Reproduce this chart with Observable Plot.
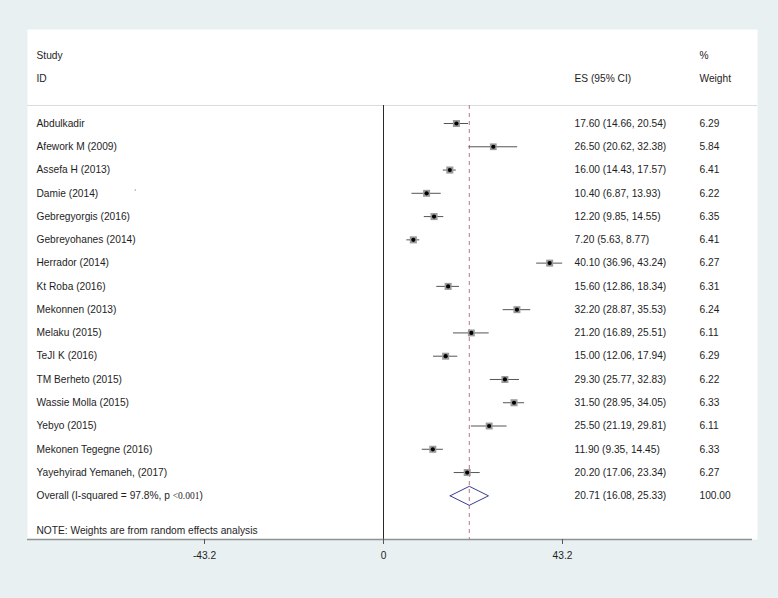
<!DOCTYPE html>
<html>
<head>
<meta charset="utf-8">
<script src="https://cdn.jsdelivr.net/npm/d3@7"></script>
<script src="https://cdn.jsdelivr.net/npm/@observablehq/plot@0.6"></script>
<style>
  html, body { margin: 0; padding: 0; background: #e8f0f2; }
  #chart { width: 778px; height: 598px; }
</style>
</head>
<body>
<div id="chart"></div>
<script>
// ---- data ----
const studies = ["Abdulkadir", "Afework M (2009)", "Assefa H (2013)", "Damie (2014)", "Gebregyorgis (2016)",
  "Gebreyohanes (2014)", "Herrador (2014)", "Kt Roba (2016)", "Mekonnen (2013)", "Melaku (2015)",
  "TeJI K (2016)", "TM Berheto (2015)", "Wassie Molla (2015)", "Yebyo (2015)", "Mekonen Tegegne (2016)",
  "Yayehyirad Yemaneh, (2017)"];
const es     = [17.60, 26.50, 16.00, 10.40, 12.20, 7.20, 40.10, 15.60, 32.20, 21.20, 15.00, 29.30, 31.50, 25.50, 11.90, 20.20];
const lo     = [14.66, 20.62, 14.43,  6.87,  9.85, 5.63, 36.96, 12.86, 28.87, 16.89, 12.06, 25.77, 28.95, 21.19,  9.35, 17.06];
const hi     = [20.54, 32.38, 17.57, 13.93, 14.55, 8.77, 43.24, 18.34, 35.53, 25.51, 17.94, 32.83, 34.05, 29.81, 14.45, 23.34];
const weight = [6.29, 5.84, 6.41, 6.22, 6.35, 6.41, 6.27, 6.31, 6.24, 6.11, 6.29, 6.22, 6.33, 6.11, 6.33, 6.27];
const overallES = 20.71, overallLo = 16.08, overallHi = 25.33, overallWeight = 100.00;
const iSquared = 97.8, pLabel = "<0.001";
const xTicks = [-43.2, 0, 43.2];
const note = "NOTE: Weights are from random effects analysis";

// ---- layout (pixel geometry of the reference) ----
const W = 778, H = 598;
const panelL = 27, panelR = 757, panelT = 29, panelB = 539;
const zeroPx = 383, pxPerUnit = 179 / 43.2;
const row0Px = 123, rowPx = 23.27;
const xL = (panelL - zeroPx) / pxPerUnit, xR = (panelR - zeroPx) / pxPerUnit;
const xAxisEnd = (752 - zeroPx) / pxPerUnit;
const yT = (panelT - row0Px) / rowPx, yB = (panelB - row0Px) / rowPx;
const rowOf = px => (px - row0Px) / rowPx;
const yStudyHdr = rowOf(55), yIdHdr = rowOf(78), ySep = rowOf(105);
const yOverall = studies.length, yNote = rowOf(530);
const diamondHalf = 9.5 / rowPx;

const rows = studies.map((s, i) => ({
  study: s, es: es[i], lo: lo[i], hi: hi[i], weight: weight[i], row: i,
  esText: `${es[i].toFixed(2)} (${lo[i].toFixed(2)}, ${hi[i].toFixed(2)})`,
  wText: weight[i].toFixed(2)
}));
const overallRow = {
  study: `Overall (I-squared = ${iSquared}%, p ${pLabel})`, row: yOverall,
  esText: `${overallES.toFixed(2)} (${overallLo.toFixed(2)}, ${overallHi.toFixed(2)})`,
  wText: overallWeight.toFixed(2)
};
const diamond = [
  {x: overallLo, y: yOverall}, {x: overallES, y: yOverall - diamondHalf},
  {x: overallHi, y: yOverall}, {x: overallES, y: yOverall + diamondHalf},
  {x: overallLo, y: yOverall}
];
const textRows = [...rows, overallRow];
const esDx = 574 - panelR, wDx = 699 - panelR, nameDx = 36 - panelL;
const ink = "#1e1e1e";

const chart = Plot.plot({
  width: W, height: H,
  marginLeft: panelL, marginRight: W - panelR, marginTop: panelT, marginBottom: H - panelB,
  style: {background: "#e8f0f2", fontFamily: "'Liberation Sans', Arial, Helvetica, sans-serif", fontSize: "10.2px", color: ink},
  x: {domain: [xL, xR]},
  y: {domain: [yT, yB], reverse: true, axis: null},
  r: {type: "sqrt", domain: [0, 6.41], range: [0, 4]},
  marks: [
    Plot.frame({fill: "white", stroke: null}),
    // header separator
    Plot.ruleY([ySep], {x1: xL, x2: xR, stroke: "#d9dcdd", strokeWidth: 1}),
    // zero line
    Plot.ruleX([0], {y1: ySep, y2: yB, stroke: "#2a2a2a", strokeWidth: 1}),
    // overall estimate dashed line
    Plot.ruleX([overallES], {y1: ySep, y2: yB, stroke: "#c0737a", strokeWidth: 1, strokeDasharray: "4,4"}),
    // confidence intervals
    Plot.ruleY(rows, {y: "row", x1: "lo", x2: "hi", stroke: "#555", strokeWidth: 1}),
    // weight boxes
    Plot.dot(rows, {x: "es", y: "row", r: "weight", symbol: "square", fill: "#9a9a9a", stroke: null}),
    // point estimates
    Plot.dot(rows, {x: "es", y: "row", r: 2.1, fill: "#000", stroke: null}),
    // overall diamond
    Plot.line(diamond, {x: "x", y: "y", stroke: "#3b3b96", strokeWidth: 1, curve: "linear"}),
    // headers
    Plot.text(["Study"], {frameAnchor: "left", dx: nameDx, y: () => yStudyHdr, textAnchor: "start", fill: ink}),
    Plot.text(["ID"], {frameAnchor: "left", dx: nameDx, y: () => yIdHdr, textAnchor: "start", fill: ink}),
    Plot.text(["ES (95% CI)"], {frameAnchor: "right", dx: esDx, y: () => yIdHdr, textAnchor: "start", fill: ink}),
    Plot.text(["%"], {frameAnchor: "right", dx: wDx, y: () => yStudyHdr, textAnchor: "start", fill: ink}),
    Plot.text(["Weight"], {frameAnchor: "right", dx: wDx, y: () => yIdHdr, textAnchor: "start", fill: ink}),
    // row labels
    Plot.text(textRows, {frameAnchor: "left", dx: nameDx, y: "row", text: "study", textAnchor: "start", fill: ink}),
    Plot.text(textRows, {frameAnchor: "right", dx: esDx, y: "row", text: "esText", textAnchor: "start", fill: ink}),
    Plot.text(textRows, {frameAnchor: "right", dx: wDx, y: "row", text: "wText", textAnchor: "start", fill: ink}),
    // stray mark next to Damie in the reference
    Plot.text(["ˈ"], {frameAnchor: "left", dx: 106, y: () => 3, textAnchor: "start", fill: "#666"}),
    Plot.text([note], {frameAnchor: "left", dx: nameDx, y: () => yNote, textAnchor: "start", fill: ink}),
    // x axis
    Plot.ruleY([yB], {x1: xL, x2: xAxisEnd, stroke: "#8d9293", strokeWidth: 1.6}),
    Plot.axisX({ticks: xTicks, tickFormat: d => String(d), tickSize: 5, tickPadding: 7, stroke: "#555", fill: ink, anchor: "bottom"})
  ]
});

// render "<0.001" in the smaller serif face used in the reference
chart.querySelectorAll("text").forEach(t => {
  const s = t.textContent;
  if (s.includes(pLabel) && s.startsWith("Overall")) {
    const [pre] = s.split(pLabel);
    t.textContent = "";
    const a = document.createElementNS("http://www.w3.org/2000/svg", "tspan"); a.textContent = pre;
    const b = document.createElementNS("http://www.w3.org/2000/svg", "tspan"); b.textContent = pLabel;
    b.setAttribute("font-family", "'Liberation Serif', 'Times New Roman', serif"); b.setAttribute("font-size", "9.5px");
    const c = document.createElementNS("http://www.w3.org/2000/svg", "tspan"); c.textContent = ")";
    t.append(a, b, c);
  }
});
document.getElementById("chart").append(chart);
</script>
</body>
</html>
